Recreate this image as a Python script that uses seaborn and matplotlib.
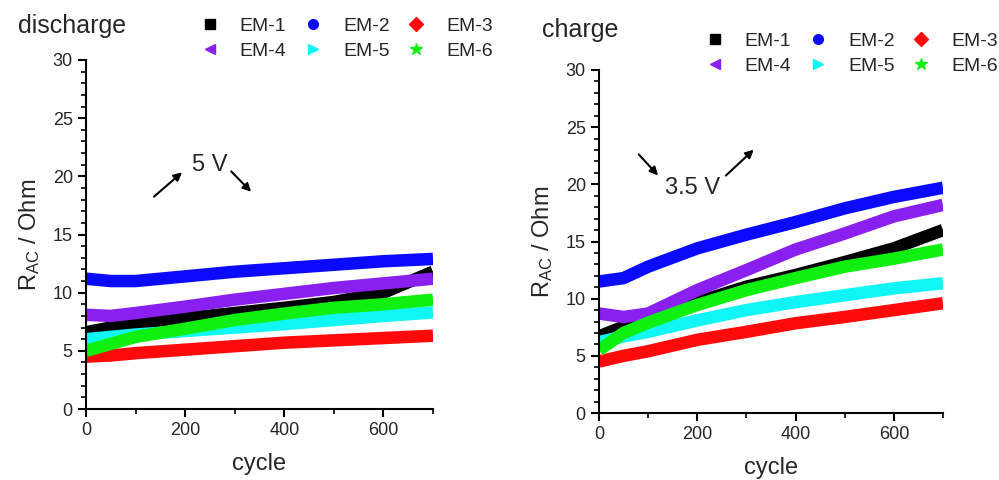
import numpy as np
import pandas as pd
import matplotlib
matplotlib.use("Agg")
import matplotlib.pyplot as plt
from matplotlib.lines import Line2D
from matplotlib.ticker import MultipleLocator
import seaborn as sns

sns.set_style("white")
plt.rcParams['font.family'] = ['Liberation Sans', 'DejaVu Sans']

# values, every 100 cycles (plus a point at 50)
cycles = [0, 50, 100, 200, 300, 400, 500, 600, 700]
series = ["EM-1", "EM-2", "EM-3", "EM-4", "EM-5", "EM-6"]

discharge = {
    "EM-1": [6.6, 7.0, 7.4, 7.8, 8.25, 8.7, 9.2, 10.0, 11.8],
    "EM-2": [11.2, 11.0, 11.0, 11.4, 11.8, 12.1, 12.4, 12.7, 12.9],
    "EM-3": [4.5, 4.6, 4.8, 5.1, 5.4, 5.7, 5.9, 6.1, 6.3],
    "EM-4": [8.1, 8.0, 8.25, 8.8, 9.4, 9.9, 10.4, 10.8, 11.2],
    "EM-5": [6.0, 6.2, 6.4, 6.7, 7.0, 7.3, 7.65, 8.0, 8.3],
    "EM-6": [5.0, 5.6, 6.2, 6.9, 7.65, 8.2, 8.7, 9.0, 9.4],
}
charge = {
    "EM-1": [6.7, 7.55, 8.0, 9.7, 11.05, 12.07, 13.2, 14.4, 16.0],
    "EM-2": [11.5, 11.8, 12.8, 14.4, 15.6, 16.7, 17.9, 18.9, 19.7],
    "EM-3": [4.5, 5.0, 5.4, 6.4, 7.1, 7.85, 8.4, 9.0, 9.6],
    "EM-4": [8.7, 8.4, 8.7, 10.75, 12.5, 14.3, 15.7, 17.2, 18.2],
    "EM-5": [6.2, 6.7, 7.1, 8.1, 9.0, 9.7, 10.3, 10.9, 11.35],
    "EM-6": [5.5, 7.0, 7.9, 9.45, 10.75, 11.8, 12.8, 13.5, 14.3],
}

colors = ["#000000", "#0a0aff", "#ff0a0a", "#8a20f0", "#10f5f5", "#10f010"]
markers = ["s", "o", "D", "<", ">", "*"]
palette = dict(zip(series, colors))


def to_long(d):
    rows = []
    for name in series:
        for c, v in zip(cycles, d[name]):
            rows.append({"cycle": c, "R": v, "cell": name})
    return pd.DataFrame(rows)


fig = plt.figure(figsize=(9.99, 4.8), dpi=100)
ax1 = fig.add_axes([86 / 999, 1 - 409 / 480, 347 / 999, 349 / 480])
ax2 = fig.add_axes([599 / 999, 1 - 413 / 480, 344 / 999, 343 / 480])

for ax, d in [(ax1, discharge), (ax2, charge)]:
    sns.lineplot(data=to_long(d), x="cycle", y="R", hue="cell", palette=palette,
                 linewidth=9, ax=ax, legend=False, solid_capstyle="butt")
    ax.set_xlim(0, 700)
    ax.set_ylim(0, 30)
    ax.xaxis.set_major_locator(MultipleLocator(200))
    ax.xaxis.set_minor_locator(MultipleLocator(100))
    ax.yaxis.set_major_locator(MultipleLocator(5))
    ax.yaxis.set_minor_locator(MultipleLocator(1))
    ax.tick_params(which="major", direction="out", length=6, width=1.5,
                   labelsize=13, bottom=True, left=True, color="black")
    ax.tick_params(which="minor", direction="out", length=3.5, width=1.2,
                   bottom=True, left=True, color="black")
    for s in ["top", "right"]:
        ax.spines[s].set_visible(False)
    for s in ["left", "bottom"]:
        ax.spines[s].set_linewidth(1.5)
        ax.spines[s].set_color("black")
    ax.set_xlabel("cycle", fontsize=17, labelpad=10)
    ax.set_ylabel(r"$\mathregular{R_{AC}}$ / Ohm", fontsize=17, labelpad=8)
    ax.patch.set_alpha(0)

fig.text(18 / 999, 1 - 26 / 480, "discharge", fontsize=18, va="center")
fig.text(542 / 999, 1 - 30 / 480, "charge", fontsize=18, va="center")

arrow = dict(arrowstyle="-|>", color="black", lw=1.5, mutation_scale=12)
ax1.annotate("", xy=(198, 20.5), xytext=(133, 18.1), arrowprops=arrow)
ax1.annotate("", xy=(337, 18.5), xytext=(289, 20.6), arrowprops=arrow)
ax1.text(250, 21.0, "5 V", fontsize=17, ha="center", va="center")

ax2.annotate("", xy=(124, 20.6), xytext=(77, 22.8), arrowprops=arrow)
ax2.annotate("", xy=(319, 23.2), xytext=(254, 20.6), arrowprops=arrow)
ax2.text(191, 19.7, "3.5 V", fontsize=17, ha="center", va="center")

handles = [Line2D([], [], ls="", marker=m, color=c, markersize=7 if m != "*" else 9)
           for m, c in zip(markers, colors)]
# legend fills by column, reorder so rows read EM-1 EM-2 EM-3 / EM-4 EM-5 EM-6
order = [0, 3, 1, 4, 2, 5]
for x0, y0 in [(198, 17), (703, 32)]:
    fig.legend([handles[i] for i in order], [series[i] for i in order],
               loc="upper left", ncol=3, frameon=False,
               bbox_to_anchor=(x0 / 999, 1 - y0 / 480), fontsize=14,
               handlelength=1.2, handletextpad=0.95, columnspacing=0.75,
               labelspacing=0.4, borderaxespad=0, borderpad=0)

fig.savefig("out.png", dpi=100)
